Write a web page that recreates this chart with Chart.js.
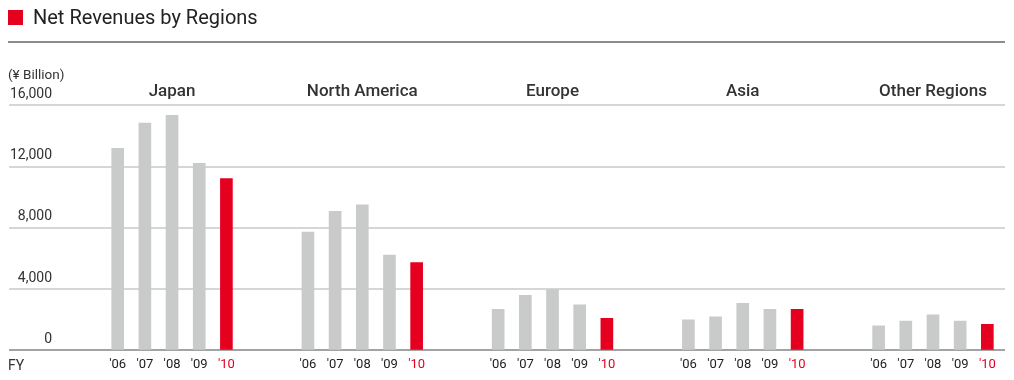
<!DOCTYPE html>
<html>
<head>
<meta charset="utf-8">
<script src="https://cdn.jsdelivr.net/npm/chart.js@4"></script>
<style>
html,body{margin:0;padding:0;background:#fff;}
#wrap{position:relative;width:1014px;height:380px;overflow:hidden;font-family:Roboto,'Noto Sans',sans-serif;}
#chart{position:absolute;left:0;top:0;}
.sq{position:absolute;left:8px;top:10px;width:15px;height:15px;background:#e60020;}
.title{position:absolute;left:33px;top:5px;font-size:20px;line-height:24px;color:#222;white-space:nowrap;}
.rule{position:absolute;left:8px;top:41px;width:997px;height:2px;background:#8c8c8c;}
.unit{position:absolute;left:8px;top:65px;font-size:13.5px;line-height:18px;color:#333;white-space:nowrap;}
.fy{position:absolute;left:8px;top:356px;font-size:14px;line-height:18px;color:#333;}
</style>
</head>
<body>
<div id="wrap">
<canvas id="chart" width="1014" height="380"></canvas>
<div class="sq"></div>
<div class="title">Net Revenues by Regions</div>
<div class="rule"></div>
<div class="unit">(¥ Billion)</div>
<div class="fy">FY</div>
</div>
<script>
// ---- data (¥ Billion) ----
const regions = ['Japan', 'North America', 'Europe', 'Asia', 'Other Regions'];
const years = ["'06", "'07", "'08", "'09", "'10"];
const japan = [13190, 14850, 15350, 12220, 11220];
const northAmerica = [7720, 9080, 9500, 6230, 5730];
const europe = [2690, 3590, 3980, 2980, 2100];
const asia = [1990, 2190, 3070, 2690, 2690];
const otherRegions = [1600, 1910, 2320, 1910, 1710];
const yTicks = [0, 4000, 8000, 12000, 16000];

// ---- build chart structures ----
const seriesByRegion = [japan, northAmerica, europe, asia, otherRegions];
const SLOT = 7; // 5 bars + 2 gap slots per region
const GRAY = '#c9caca', RED = '#e60020';
const points = [];
const yearTickPos = [];
const yearTickLabel = {};
regions.forEach((r, g) => {
  seriesByRegion[g].forEach((v, k) => {
    const x = g * SLOT + k;
    points.push({x: x, y: v});
    yearTickPos.push(x);
    yearTickLabel[x] = years[k];
  });
});
const groupPos = regions.map((r, g) => g * SLOT + (years.length - 1) / 2);
const groupLabel = {};
groupPos.forEach((p, g) => groupLabel[p] = regions[g]);
const xMin = -4, xMax = (regions.length - 1) * SLOT + (years.length - 1) + 0.65;
const FONT = "Roboto, 'Noto Sans', sans-serif";

new Chart(document.getElementById('chart'), {
  type: 'bar',
  data: {
    datasets: [{
      data: points,
      barThickness: 12,
      backgroundColor: ctx => (ctx.dataIndex % years.length === years.length - 1) ? RED : GRAY,
      borderWidth: 0
    }]
  },
  options: {
    responsive: false,
    animation: false,
    events: [],
    layout: {padding: {top: 79, left: 7, right: 9, bottom: 0}},
    plugins: {legend: {display: false}, tooltip: {enabled: false}, title: {display: false}},
    scales: {
      x: {
        type: 'linear', position: 'bottom', min: xMin, max: xMax, offset: false,
        grid: {display: false, drawTicks: false, offset: false},
        border: {display: false},
        afterBuildTicks: s => { s.ticks = yearTickPos.map(v => ({value: v})); },
        ticks: {
          autoSkip: false, maxRotation: 0, padding: 7,
          font: {family: FONT, size: 13},
          color: ctx => (ctx.tick && yearTickLabel[ctx.tick.value] === years[years.length - 1]) ? RED : '#222',
          callback: v => yearTickLabel[v]
        }
      },
      x2: {
        type: 'linear', position: 'top', min: xMin, max: xMax, offset: false,
        grid: {display: false, drawTicks: false, offset: false},
        border: {display: false},
        afterBuildTicks: s => { s.ticks = groupPos.map(v => ({value: v})); },
        ticks: {
          autoSkip: false, maxRotation: 0, padding: 3,
          font: {family: FONT, size: 17, weight: '500'},
          color: '#333',
          callback: v => groupLabel[v]
        }
      },
      y: {
        min: yTicks[0], max: yTicks[yTicks.length - 1],
        afterBuildTicks: s => { s.ticks = yTicks.map(v => ({value: v})); },
        grid: {
          drawTicks: false, lineWidth: 2,
          color: ctx => (ctx.tick && ctx.tick.value === 0) ? '#a3a3a3' : '#d6d6d6'
        },
        border: {display: false},
        ticks: {
          mirror: true, crossAlign: 'far', padding: 1, labelOffset: -11,
          font: {family: FONT, size: 14},
          color: '#333',
          callback: v => v.toLocaleString('en-US')
        }
      }
    }
  }
});
</script>
</body>
</html>
